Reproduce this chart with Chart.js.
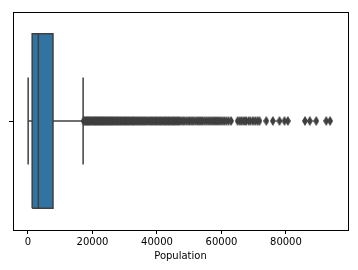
<!DOCTYPE html>
<html>
<head>
<meta charset="utf-8">
<script src="https://cdn.jsdelivr.net/npm/chart.js@4.4.1/dist/chart.umd.min.js"></script>
<style>
  html, body { margin: 0; padding: 0; background: #fff; }
  #wrap { width: 358px; height: 270px; }
</style>
</head>
<body>
<div id="wrap"><canvas id="chart" width="358" height="270"></canvas></div>
<script>
// one unnamed box on the y axis
const categories = [''];
// lower whisker, Q1, median, Q3, upper whisker
const boxValues = [50, 1300, 3200, 7750, 17100];
// points past the upper whisker
const outliers = [
  17250, 17500, 17800, 18050, 18300, 18600, 18900, 19150, 19400, 19700,
  20000, 20300, 20550, 20850, 21100, 21400, 21700, 22000, 22300, 22550,
  22850, 23150, 23400, 23700, 24000, 24300, 24600, 24900, 25200, 25500,
  25800, 26100, 26400, 26750, 27050, 27400, 27700, 28000, 28350, 28700,
  29000, 29350, 29700, 30050, 30400, 30750, 31100, 31450, 31800, 32200,
  32550, 32900, 33300, 33650, 34000, 34400, 34800, 35200, 35600, 36000,
  36400, 36800, 37250, 37700, 38100, 38500, 38900, 39300, 39700, 40100,
  40500, 40900, 41300, 41700, 42100, 42500, 42900, 43300, 43700, 44100,
  44500, 44900, 45300, 45700, 46100, 46500, 46900,
  47400, 48000, 48500, 49100, 49700, 50200, 50800, 51300, 51900, 52500,
  53000, 53600, 54100, 54700, 55300, 55900, 56500, 57100, 57700, 58300,
  58900, 59500, 60100, 60800, 61500, 62200, 63000,
  65000, 65700, 66300, 67000, 67600, 68400, 69000, 69800, 70500, 71200, 71800,
  73900, 75950,
  78000, 79550, 80600,
  85900, 87400, 89400,
  92500, 93700
];
const xTicks = [0, 20000, 40000, 60000, 80000];
const xRange = [-4650, 99250];

const GRAY = '#3f3f3f';
const BLUE = '#3274a1';
const FONT = { family: 'DejaVu Sans', size: 10 };

// seaborn's thin diamond flier marker
const diamond = document.createElement('canvas');
diamond.width = 6;
diamond.height = 10;
(function () {
  const c = diamond.getContext('2d');
  c.fillStyle = GRAY;
  c.beginPath();
  c.moveTo(3, 0);
  c.lineTo(6, 5);
  c.lineTo(3, 10);
  c.lineTo(0, 5);
  c.closePath();
  c.fill();
})();

const [wLo, q1, med, q3, wHi] = boxValues;
const half = 0.4;   // box width 0.8
const cap = 0.2;    // caps are half the box

const seg = (pts) => ({
  type: 'line',
  data: pts.map(([x, y]) => ({ x, y })),
  borderColor: GRAY,
  borderWidth: 1.5,
  pointRadius: 0,
  fill: false,
  tension: 0
});

const datasets = [
  {
    type: 'scatter',
    label: 'outliers',
    data: outliers.map(v => ({ x: v, y: 0 })),
    pointStyle: diamond,
    pointRadius: 3
  },
  seg([[med, -half], [med, half]]),
  seg([[wLo, 0], [q1, 0]]),
  seg([[q3, 0], [wHi, 0]]),
  seg([[wLo, -cap], [wLo, cap]]),
  seg([[wHi, -cap], [wHi, cap]]),
  Object.assign(seg([[q1, -half], [q3, -half], [q3, half], [q1, half], [q1, -half]]), {
    fill: 'shape',
    backgroundColor: BLUE,
    borderJoinStyle: 'miter'
  })
];

const frame = (pos, size) => ({
  position: pos,
  display: true,
  min: pos === 'top' ? xRange[0] : -0.5,
  max: pos === 'top' ? xRange[1] : 0.5,
  grid: { display: false },
  ticks: { display: false },
  border: { color: '#000', width: 1 },
  afterFit: s => {
    if (pos === 'top') s.height = size; else s.width = size;
  }
});

new Chart(document.getElementById('chart'), {
  type: 'scatter',
  data: { labels: categories, datasets: datasets },
  options: {
    responsive: false,
    animation: false,
    layout: { padding: 0 },
    plugins: {
      legend: { display: false },
      tooltip: { enabled: false }
    },
    scales: {
      x: {
        type: 'linear',
        min: xRange[0],
        max: xRange[1],
        afterBuildTicks: s => { s.ticks = xTicks.map(v => ({ value: v })); },
        ticks: {
          color: '#000',
          font: FONT,
          padding: 2,
          maxRotation: 0,
          autoSkip: false,
          callback: v => String(v)
        },
        grid: { drawOnChartArea: false, color: '#000', tickLength: 4 },
        border: { color: '#000', width: 1 },
        title: {
          display: true,
          text: 'Population',
          color: '#000',
          font: FONT,
          padding: { top: 2, bottom: 8 }
        },
        afterFit: s => { s.height = 40; }
      },
      y: {
        type: 'linear',
        min: -0.5,
        max: 0.5,
        afterBuildTicks: s => { s.ticks = [{ value: 0 }]; },
        ticks: { callback: () => categories[0], padding: 0 },
        grid: { drawOnChartArea: false, color: '#000', tickLength: 4 },
        border: { color: '#000', width: 1 },
        afterFit: s => { s.width = 13; }
      },
      xTop: frame('top', 12),
      yRight: frame('right', 10)
    }
  }
});
</script>
</body>
</html>
